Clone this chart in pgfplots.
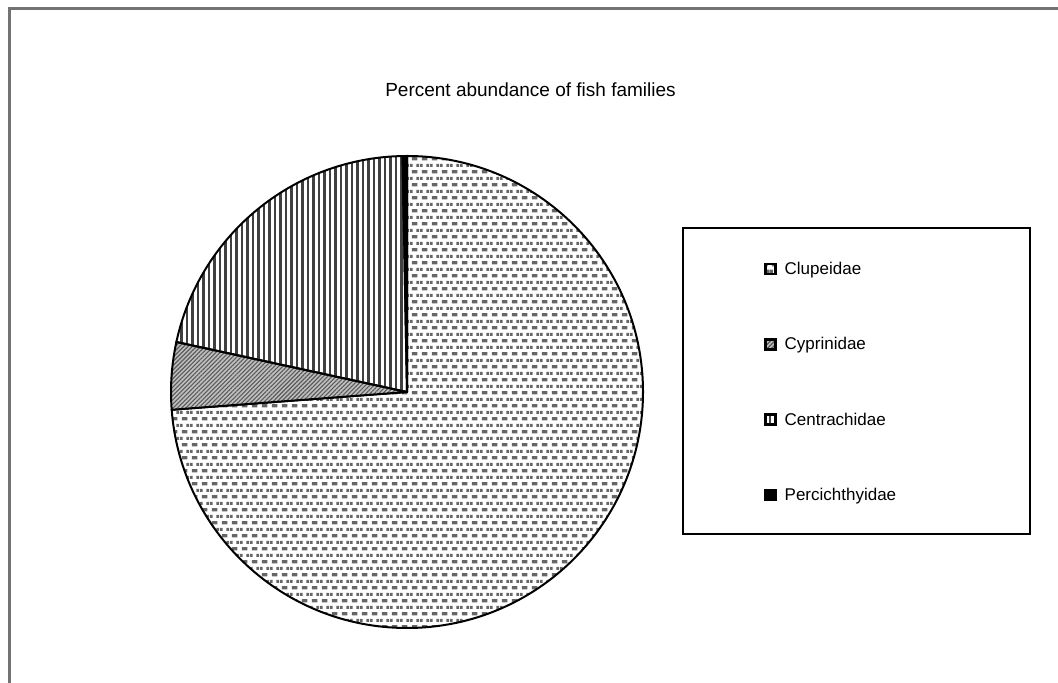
\documentclass[border=0pt]{standalone}
\usepackage{fontspec}
\setmainfont{Liberation Sans}
\usepackage{pgfplots}
\usepackage{pgfplotstable}
\pgfplotsset{compat=1.18}
\usetikzlibrary{patterns,patterns.meta}

% staggered short dashes (Clupeidae)
\pgfdeclarepatternformonly{fishdash}{\pgfqpoint{0bp}{0bp}}{\pgfqpoint{10bp}{13.4bp}}{\pgfqpoint{10bp}{13.4bp}}{%
  \pgfpathrectangle{\pgfqpoint{2bp}{1.8bp}}{\pgfqpoint{6bp}{3.2bp}}%
  \pgfpathrectangle{\pgfqpoint{7bp}{8.5bp}}{\pgfqpoint{3bp}{3.2bp}}%
  \pgfpathrectangle{\pgfqpoint{0bp}{8.5bp}}{\pgfqpoint{3bp}{3.2bp}}%
  \pgfusepath{fill}}

\pgfplotstableread{
family pct
Clupeidae 73.8
Cyprinidae 4.6
Centrachidae 21.3
Percichthyidae 0.3
}\fishdata

\tikzset{
  clup/.style={pattern=fishdash, pattern color=black!60},
  cypr/.style={preaction={fill=black!25}, pattern={Lines[angle=45,distance=3bp,line width=1.1bp]}, pattern color=black!65},
  cent/.style={pattern={Lines[angle=90,distance=5.5bp,line width=2.2bp]}, pattern color=black!75},
  perc/.style={fill=black},
}
\pgfplotsset{fishlegend/.style={legend image code/.code={%
  \draw[##1,draw=black,line width=2.5bp] (0bp,-5bp) rectangle (10bp,5bp);}}}

% slice: start angle, end angle, style
\newcommand{\slice}[3]{%
  \filldraw[#3, draw=black, line width=2bp, line join=round]
    (axis cs:407,291) -- ++(#1:236bp) arc[start angle=#1, end angle=#2, radius=236bp] -- cycle;}

\begin{document}
\begin{tikzpicture}
\pgfplotstablegetelem{0}{pct}\of\fishdata \pgfmathsetmacro\aA{90-3.6*\pgfplotsretval}
\pgfplotstablegetelem{1}{pct}\of\fishdata \pgfmathsetmacro\aB{\aA-3.6*\pgfplotsretval}
\pgfplotstablegetelem{2}{pct}\of\fishdata \pgfmathsetmacro\aC{\aB-3.6*\pgfplotsretval}
\pgfplotstablegetelem{3}{pct}\of\fishdata \pgfmathsetmacro\aD{\aC-3.6*\pgfplotsretval}
\begin{axis}[
  scale only axis, width=1058bp, height=683bp,
  xmin=0, xmax=1058, ymin=0, ymax=683,
  hide axis,
  title={Percent abundance of fish families},
  title style={at={(axis cs:530.5,587)}, anchor=center, font=\fontsize{19bp}{22bp}\selectfont},
  legend style={draw=none, fill=none, at={(axis cs:761,683-258)}, anchor=north west,
    font=\fontsize{17bp}{20bp}\selectfont, row sep=57.5bp,
    /tikz/every odd column/.append style={column sep=6bp}},
  legend cell align=left,
]
\addlegendimage{fishlegend, clup}
\addlegendentry{Clupeidae}
\addlegendimage{fishlegend, cypr}
\addlegendentry{Cyprinidae}
\addlegendimage{fishlegend, cent}
\addlegendentry{Centrachidae}
\addlegendimage{fishlegend, perc}
\addlegendentry{Percichthyidae}

\slice{90}{\aA}{clup}
\slice{\aA}{\aB}{cypr}
\slice{\aB}{\aC}{cent}
\slice{\aC}{\aD}{perc}

% legend frame and chart border
\draw[black, line width=1.2bp] (axis cs:683,683-228) rectangle (axis cs:1030,683-534);
\draw[black!55, line width=3bp] (axis cs:9,0) -- (axis cs:9,674) -- (axis cs:1058,674);
\end{axis}
\pgfresetboundingbox
\path[use as bounding box] (0,0) rectangle (1058bp,683bp);
\end{tikzpicture}
\end{document}
